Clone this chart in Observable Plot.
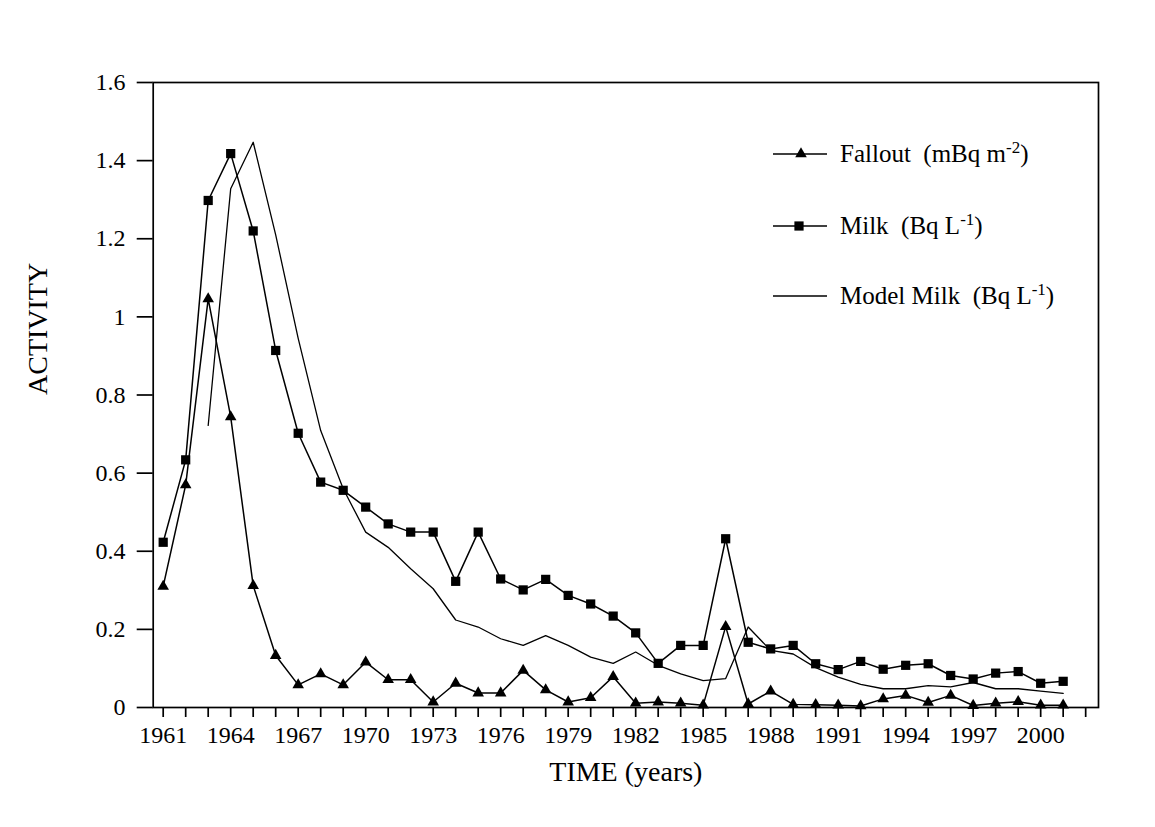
<!DOCTYPE html>
<html>
<head>
<meta charset="utf-8">
<script src="https://cdn.jsdelivr.net/npm/d3@7"></script>
<script src="https://cdn.jsdelivr.net/npm/@observablehq/plot@0.6"></script>
<style>
  html, body { margin: 0; padding: 0; background: #ffffff; }
  #wrap { position: relative; width: 1155px; height: 827px; background: #ffffff; }
  #legend { position: absolute; left: 0; top: 0; font-family: "Liberation Serif", "Times New Roman", serif; font-size: 25px; color: #000; }
  .row { position: absolute; left: 772px; height: 30px; display: flex; align-items: center; white-space: nowrap; }
  .row svg { width: 56px; height: 30px; margin-right: 12px; }
  .row span { line-height: 30px; }
  sup { font-size: 0.68em; vertical-align: 0.55em; line-height: 0; }
</style>
</head>
<body>
<div id="wrap"><div id="legend"></div></div>
<script>
// ---- data ----
const years = [1961,1962,1963,1964,1965,1966,1967,1968,1969,1970,
               1971,1972,1973,1974,1975,1976,1977,1978,1979,1980,
               1981,1982,1983,1984,1985,1986,1987,1988,1989,1990,
               1991,1992,1993,1994,1995,1996,1997,1998,1999,2000,2001];
const fallout = [0.31,0.57,1.046,0.744,0.312,0.133,0.058,0.086,0.058,0.116,
                 0.071,0.071,0.014,0.062,0.037,0.037,0.095,0.045,0.014,0.025,
                 0.079,0.011,0.014,0.011,0.006,0.207,0.009,0.042,0.008,0.007,
                 0.006,0.004,0.022,0.031,0.013,0.031,0.005,0.011,0.015,0.006,0.006];
const milk = [0.423,0.634,1.298,1.418,1.220,0.914,0.702,0.577,0.556,0.513,
              0.470,0.449,0.449,0.323,0.449,0.329,0.301,0.328,0.287,0.265,
              0.234,0.191,0.113,0.159,0.159,0.432,0.167,0.150,0.159,0.112,
              0.097,0.118,0.098,0.108,0.112,0.082,0.073,0.088,0.092,0.062,0.067];
const modelYears = [1963,1964,1965,1966,1967,1968,1969,1970,
                    1971,1972,1973,1974,1975,1976,1977,1978,1979,1980,
                    1981,1982,1983,1984,1985,1986,1987,1988,1989,1990,
                    1991,1992,1993,1994,1995,1996,1997,1998,1999,2000,2001];
const modelMilk = [0.722,1.328,1.447,1.21,0.945,0.709,0.56,0.449,
                   0.41,0.355,0.304,0.224,0.206,0.176,0.159,0.184,0.159,0.129,
                   0.113,0.142,0.108,0.086,0.069,0.074,0.206,0.146,0.137,0.102,
                   0.078,0.059,0.048,0.048,0.056,0.053,0.064,0.048,0.048,0.042,0.036];
const xTicks = [1961,1962,1963,1964,1965,1966,1967,1968,1969,1970,
                1971,1972,1973,1974,1975,1976,1977,1978,1979,1980,
                1981,1982,1983,1984,1985,1986,1987,1988,1989,1990,
                1991,1992,1993,1994,1995,1996,1997,1998,1999,2000,2001,2002];
const xLabelYears = [1961,1964,1967,1970,1973,1976,1979,1982,1985,1988,1991,1994,1997,2000];
const yTicks = [0,0.2,0.4,0.6,0.8,1,1.2,1.4,1.6];
const yTickLabels = ["0","0.2","0.4","0.6","0.8","1","1.2","1.4","1.6"];
const xTitle = "TIME (years)";
const yTitle = "ACTIVITY";
const legendItems = [
  {key: "fallout", html: "Fallout&nbsp;&nbsp;(mBq m<sup>-2</sup>)"},
  {key: "milk", html: "Milk&nbsp;&nbsp;(Bq L<sup>-1</sup>)"},
  {key: "model", html: "Model Milk&nbsp;&nbsp;(Bq L<sup>-1</sup>)"}
];

// ---- tables ----
const falloutData = years.map((year, i) => ({year, value: fallout[i]}));
const milkData = years.map((year, i) => ({year, value: milk[i]}));
const modelData = modelYears.map((year, i) => ({year, value: modelMilk[i]}));

const chart = Plot.plot({
  width: 1155,
  height: 827,
  marginLeft: 152.7,
  marginRight: 57,
  marginTop: 82,
  marginBottom: 120,
  style: {fontFamily: "'Liberation Serif', 'Times New Roman', serif", fontSize: "24px", background: "#ffffff", color: "#000"},
  x: {domain: [1960.556, 2002.57]},
  y: {domain: [0, 1.6]},
  marks: [
    Plot.frame({stroke: "#000", strokeWidth: 1.7}),
    Plot.axisX({ticks: xTicks, tickSize: 10, tickPadding: 8, strokeWidth: 1.7,
      tickFormat: d => xLabelYears.includes(d) ? String(d) : "", label: null, fontSize: 24}),
    Plot.axisY({ticks: yTicks, tickSize: 16, tickPadding: 11.7, strokeWidth: 1.7,
      tickFormat: d => yTickLabels[yTicks.indexOf(d)], label: null, fontSize: 24}),
    Plot.line(modelData, {x: "year", y: "value", stroke: "#000", strokeWidth: 1.3}),
    Plot.line(milkData, {x: "year", y: "value", stroke: "#000", strokeWidth: 1.5}),
    Plot.dot(milkData, {x: "year", y: "value", symbol: "square", r: 5.2, fill: "#000", stroke: "none"}),
    Plot.line(falloutData, {x: "year", y: "value", stroke: "#000", strokeWidth: 1.5}),
    Plot.dot(falloutData, {x: "year", y: "value", symbol: "triangle", r: 4.3, fill: "#000", stroke: "none"}),
    Plot.text([xTitle], {text: d => d, frameAnchor: "bottom", dy: 73, fontSize: 28}),
    Plot.text([yTitle], {text: d => d, frameAnchor: "left", dx: -115, rotate: -90, fontSize: 28})
  ]
});
document.getElementById("wrap").prepend(chart);

// ---- legend ----
const legend = d3.select("#legend");
const rowCenters = [154, 226, 296];
legendItems.forEach((item, i) => {
  const row = legend.append("div").attr("class", "row").style("top", (rowCenters[i] - 15) + "px");
  const svg = row.append("svg").attr("viewBox", "0 0 56 30");
  svg.append("line").attr("x1", 1).attr("x2", 55).attr("y1", 15).attr("y2", 15)
     .attr("stroke", "#000").attr("stroke-width", item.key === "model" ? 1.3 : 1.5);
  if (item.key === "fallout") {
    svg.append("path").attr("d", d3.symbol(d3.symbolTriangle, Math.PI * 4.3 * 4.3)()).attr("transform", "translate(29,15)").attr("fill", "#000");
  } else if (item.key === "milk") {
    svg.append("path").attr("d", d3.symbol(d3.symbolSquare, Math.PI * 5.2 * 5.2)()).attr("transform", "translate(27,15)").attr("fill", "#000");
  }
  row.append("span").html(item.html);
});
</script>
</body>
</html>
